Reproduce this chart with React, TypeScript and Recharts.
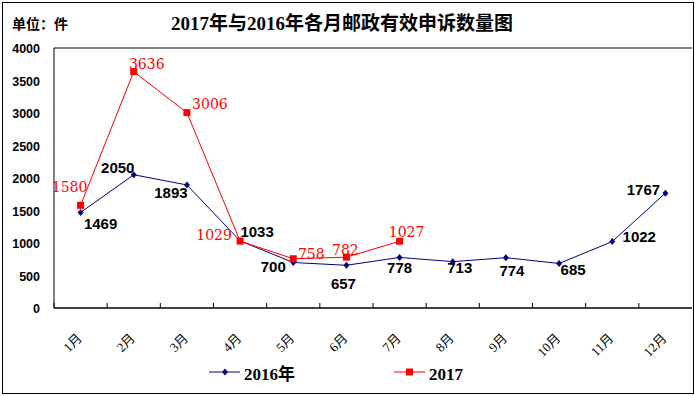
import { LineChart, Line, XAxis, YAxis, CartesianGrid, LabelList } from 'recharts';

const months = ['1月', '2月', '3月', '4月', '5月', '6月', '7月', '8月', '9月', '10月', '11月', '12月'];
const counts2016 = [1469, 2050, 1893, 1033, 700, 657, 778, 713, 774, 685, 1022, 1767];
const counts2017 = [1580, 3636, 3006, 1029, 758, 782, 1027, null, null, null, null, null];
const yTicks = [0, 500, 1000, 1500, 2000, 2500, 3000, 3500, 4000];

// label nudges (dx, dy) so the numbers sit where the original puts them
const labelOffset2016 = [
  [20, 11], [-16, -7], [-16, 8], [17, -9], [-20, 4], [-3, 18],
  [0, 10], [7, 6], [6, 13], [14, 6], [27, -5], [-22, -4],
];
const labelOffset2017 = [
  [-11, -18], [13, -8], [23, -9], [-26, -6], [18, -5], [-1, -7], [7, -9],
];

const BLUE = '#000080';
const RED = '#ff0000';
const W = 695;
const H = 396;
const PLOT_LEFT = 54;
const PLOT_RIGHT = 692;
const HALF_BAND = (PLOT_RIGHT - PLOT_LEFT) / months.length / 2;

const data = months.map((m, i) => ({ month: m, y2016: counts2016[i], y2017: counts2017[i] }));

function MonthTick({ x, y, payload }: any) {
  return (
    <g>
      <line x1={x - HALF_BAND} x2={x - HALF_BAND} y1={y} y2={y - 5} stroke="#000" />
      <text
        transform={`translate(${x + 2},${y + 31}) rotate(-45)`}
        textAnchor="end"
        fontSize={13}
        fontFamily="'Liberation Serif', 'Noto Sans CJK SC', serif"
        fill="#000"
      >
        {payload.value}
      </text>
    </g>
  );
}

function Diamond({ cx, cy, index }: any) {
  if (cx == null || cy == null) return <g key={`d${index}`} />;
  return <path key={`d${index}`} d={`M${cx},${cy - 3.5}L${cx + 3},${cy}L${cx},${cy + 3.5}L${cx - 3},${cy}Z`} fill={BLUE} />;
}

function Square({ cx, cy, index, value }: any) {
  if (cx == null || cy == null || value == null) return <g key={`s${index}`} />;
  return <rect key={`s${index}`} x={cx - 3.5} y={cy - 3.5} width={7} height={7} fill={RED} />;
}

function label2016(props: any) {
  const { x, y, value, index } = props;
  const [dx, dy] = labelOffset2016[index] || [0, 0];
  return (
    <text x={x + dx} y={y + dy + 5.5} textAnchor="middle" fontSize={15} fontWeight="bold"
      fontFamily="'Liberation Sans', Arial, sans-serif" fill="#000">
      {value}
    </text>
  );
}

function label2017(props: any) {
  const { x, y, value, index } = props;
  if (value == null) return null;
  const [dx, dy] = labelOffset2017[index] || [0, 0];
  return (
    <text x={x + dx} y={y + dy + 5} textAnchor="middle" fontSize={14}
      fontFamily="'DejaVu Serif', serif" fill={RED}>
      {value}
    </text>
  );
}

export default function App() {
  return (
    <div style={{ position: 'absolute', left: 0, top: 0, width: W, height: H, background: '#fff' }}>
      <LineChart width={W} height={H} data={data} margin={{ top: 48, right: W - PLOT_RIGHT, bottom: 0, left: 0 }}>
        <CartesianGrid vertical={false} stroke="#000" strokeWidth={1} />
        <XAxis
          dataKey="month"
          height={88}
          padding={{ left: HALF_BAND, right: HALF_BAND }}
          axisLine={{ stroke: '#000' }}
          tickLine={false}
          tickSize={0}
          tickMargin={0}
          interval={0}
          tick={<MonthTick />}
        />
        <YAxis
          yAxisId="left"
          width={PLOT_LEFT}
          domain={[0, 4000]}
          ticks={yTicks}
          interval={0}
          axisLine={{ stroke: '#000' }}
          tickLine={false}
          tickSize={0}
          tickMargin={14}
          tick={{ fill: '#000', fontSize: 12.5, fontWeight: 'bold', fontFamily: "'Liberation Sans', Arial, sans-serif", dy: 1 }}
        />
        <YAxis yAxisId="right" orientation="right" width={0} tick={false} tickLine={false} axisLine={{ stroke: '#000' }} />
        <Line
          yAxisId="left"
          dataKey="y2016"
          stroke={BLUE}
          strokeWidth={1}
          dot={<Diamond />}
          activeDot={false}
          isAnimationActive={false}
        >
          <LabelList dataKey="y2016" content={label2016} />
        </Line>
        <Line
          yAxisId="left"
          dataKey="y2017"
          stroke={RED}
          strokeWidth={1}
          dot={<Square />}
          activeDot={false}
          connectNulls={false}
          isAnimationActive={false}
        >
          <LabelList dataKey="y2017" content={label2017} />
        </Line>
      </LineChart>

      <div style={{ position: 'absolute', left: 12, top: 15, fontSize: 14, fontWeight: 'bold', fontFamily: "'Noto Sans CJK SC', sans-serif", lineHeight: '16px' }}>
        单位：件
      </div>
      <div style={{ position: 'absolute', left: 0, width: 684, top: 12, textAlign: 'center', fontSize: 19, fontWeight: 'bold', fontFamily: "'Liberation Serif', 'Noto Sans CJK SC', serif", lineHeight: '24px' }}>
        2017年与2016年各月邮政有效申诉数量图
      </div>

      <svg style={{ position: 'absolute', left: 0, top: 0 }} width={W} height={H} pointerEvents="none">
        <line x1={209} x2={240} y1={372} y2={372} stroke={BLUE} strokeWidth={1} />
        <path d="M225,368.5L228,372L225,375.5L222,372Z" fill={BLUE} />
        <text x={244} y={380} fontSize={17} fontWeight="bold" fontFamily="'Liberation Serif', 'Noto Sans CJK SC', serif">2016年</text>
        <line x1={394} x2={425} y1={372} y2={372} stroke={RED} strokeWidth={1} />
        <rect x={406} y={368.5} width={7} height={7} fill={RED} />
        <text x={429} y={380} fontSize={17} fontWeight="bold" fontFamily="'Liberation Serif', serif">2017</text>
      </svg>

      <div style={{ position: 'absolute', left: 2, top: 2, width: 690, height: 390, border: '1px solid #000', pointerEvents: 'none' }} />
    </div>
  );
}
